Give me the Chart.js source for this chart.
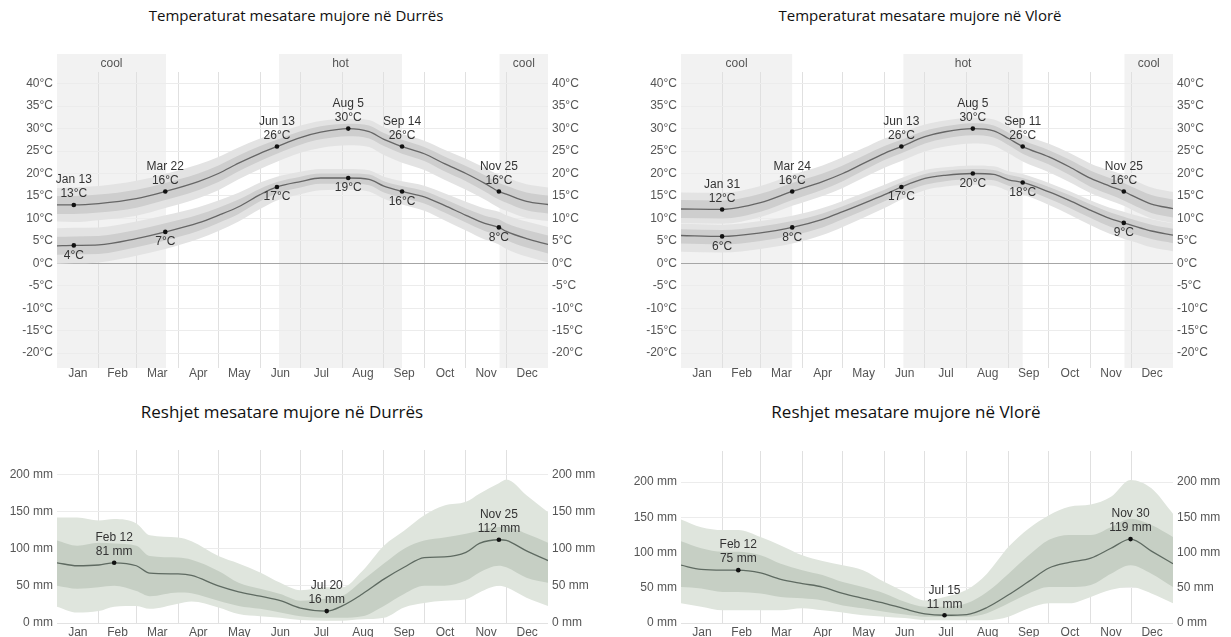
<!DOCTYPE html>
<html>
<head>
<meta charset="utf-8">
<script src="https://cdn.jsdelivr.net/npm/chart.js@4.4.1/dist/chart.umd.min.js"></script>
<style>
  html, body { margin: 0; padding: 0; background: #fff; }
  body { width: 1231px; height: 637px; position: relative; overflow: hidden; }
  .title { position: absolute; transform: translateX(-50%); white-space: nowrap;
           font-family: "Open Sans", "Noto Sans", sans-serif; color: #111; line-height: 22px; }
  .t-temp { font-size: 15px; }
  .t-rain { font-size: 17px; }
  .box { position: absolute; }
  canvas { display: block; }
</style>
</head>
<body>
<div class="title t-temp" style="left:296px; top:4px">Temperaturat mesatare mujore në Durrës</div>
<div class="title t-temp" style="left:920px; top:4px">Temperaturat mesatare mujore në Vlorë</div>
<div class="title t-rain" style="left:282px; top:401px">Reshjet mesatare mujore në Durrës</div>
<div class="title t-rain" style="left:906px; top:401px">Reshjet mesatare mujore në Vlorë</div>

<div class="box" style="left:0; top:30px"><canvas id="tempDurres" width="615" height="360"></canvas></div>
<div class="box" style="left:615px; top:30px"><canvas id="tempVlore" width="616" height="360"></canvas></div>
<div class="box" style="left:0; top:425px"><canvas id="rainDurres" width="615" height="212"></canvas></div>
<div class="box" style="left:615px; top:425px"><canvas id="rainVlore" width="616" height="212"></canvas></div>

<script>
// ---- axes ----
const monthLabels = ['Jan', 'Feb', 'Mar', 'Apr', 'May', 'Jun', 'Jul', 'Aug', 'Sep', 'Oct', 'Nov', 'Dec'];
const monthStarts = [31, 59, 90, 120, 151, 181, 212, 243, 273, 304, 334];
const monthMids = [15.5, 45, 74.5, 105, 135.5, 166, 196.5, 227.5, 258, 288.5, 319, 349.5];
const tempTicks = [-20, -15, -10, -5, 0, 5, 10, 15, 20, 25, 30, 35, 40];
const rainTicks = [0, 50, 100, 150, 200];

// ---- Durrës temperature (day of year) ----
const durresTempDays = [0, 12.5, 31, 59, 80.5, 105, 120, 135, 151, 163.5, 181, 196, 216.5, 232, 243, 256.5, 273, 288, 304, 318, 328.5, 334, 349, 365];
const durresHigh    = [13.0, 13, 13.3, 14.4, 16, 18.2, 20, 22.3, 24.5, 26, 28, 29.2, 30, 29.3, 27.6, 26, 24.4, 22.2, 20, 17.8, 16, 15.4, 13.8, 13.1];
const durresHighP90 = [16.8, 16.9, 17.2, 18.4, 19.9, 22.0, 23.7, 25.8, 27.8, 29.0, 30.7, 31.7, 32.2, 31.9, 30.3, 28.8, 27.3, 25.3, 23.3, 21.3, 19.7, 19.1, 17.6, 16.9];
const durresHighP75 = [15.0, 15.0, 15.3, 16.4, 17.9, 20.0, 21.8, 24.0, 26.1, 27.5, 29.4, 30.5, 31.1, 30.7, 29.0, 27.5, 25.9, 23.8, 21.7, 19.6, 17.9, 17.3, 15.8, 15.1];
const durresHighP25 = [11.0, 11.0, 11.3, 12.4, 14.1, 16.3, 18.1, 20.5, 22.8, 24.4, 26.4, 27.6, 28.3, 27.8, 26.1, 24.4, 22.8, 20.5, 18.3, 16.0, 14.2, 13.5, 11.8, 11.1];
const durresHighP10 = [9.3, 9.2, 9.6, 10.6, 12.3, 14.5, 16.3, 18.7, 21.0, 22.6, 24.6, 25.7, 26.3, 25.9, 24.1, 22.4, 20.8, 18.6, 16.4, 14.2, 12.4, 11.7, 10.1, 9.4];
const durresLow     = [3.9, 4, 4.1, 5.5, 7, 9, 10.7, 12.6, 15.3, 17, 18.2, 19, 19, 18.7, 17.2, 16, 14.8, 12.9, 10.7, 8.9, 8, 7.1, 5.5, 4.2];
const durresLowP90  = [7.8, 7.9, 8.0, 9.3, 10.7, 12.5, 14.0, 15.7, 18.0, 19.3, 20.4, 21.0, 21.0, 20.7, 19.3, 18.3, 17.3, 15.6, 13.7, 12.2, 11.5, 10.7, 9.3, 8.1];
const durresLowP75  = [5.9, 6.0, 6.1, 7.4, 8.9, 10.8, 12.4, 14.2, 16.6, 18.1, 19.3, 20.0, 20.0, 19.8, 18.3, 17.2, 16.1, 14.3, 12.2, 10.6, 9.8, 8.9, 7.4, 6.2];
const durresLowP25  = [1.9, 2.0, 2.1, 3.6, 5.1, 7.2, 9.0, 11.0, 13.8, 15.6, 16.9, 17.7, 17.7, 17.4, 15.8, 14.6, 13.3, 11.3, 9.1, 7.2, 6.2, 5.2, 3.5, 2.2];
const durresLowP10  = [-0.1, 0.0, 0.2, 1.7, 3.2, 5.4, 7.2, 9.3, 12.1, 14.0, 15.4, 16.3, 16.4, 16.0, 14.4, 13.1, 11.7, 9.6, 7.3, 5.3, 4.2, 3.2, 1.5, 0.2];
const durresTempMarks = [12.5, 80.5, 163.5, 216.5, 256.5, 328.5];
const durresTempDates = ['Jan 13', 'Mar 22', 'Jun 13', 'Aug 5', 'Sep 14', 'Nov 25'];
const durresSeasons = [
  { name: 'cool', from: 0, to: 81 },
  { name: 'hot', from: 165, to: 256.5 },
  { name: 'cool', from: 329, to: 365 }
];

// ---- Vlorë temperature ----
const vloreTempDays = [0, 30.5, 59, 82.5, 105, 120, 135, 151, 163.5, 181, 196, 216.5, 232, 243, 253.5, 273, 288, 304, 318, 328.5, 334, 349, 365];
const vloreHigh    = [12.1, 12, 13.5, 16, 18.2, 20, 22.2, 24.5, 26, 28.2, 29.3, 30, 29.5, 27.8, 26, 23.7, 21.5, 18.9, 17.2, 16, 15.2, 13.2, 12.2];
const vloreHighP90 = [15.8, 15.7, 17.2, 19.7, 21.8, 23.6, 25.6, 27.8, 29.1, 30.9, 31.8, 32.4, 32.0, 30.4, 28.7, 26.6, 24.6, 22.2, 20.7, 19.6, 18.8, 16.9, 15.9];
const vloreHighP75 = [14.1, 14.0, 15.5, 17.9, 20.0, 21.8, 23.9, 26.1, 27.5, 29.5, 30.5, 31.2, 30.7, 29.1, 27.4, 25.2, 23.1, 20.6, 19.0, 17.9, 17.1, 15.2, 14.2];
const vloreHighP25 = [10.1, 10.0, 11.5, 14.1, 16.4, 18.3, 20.6, 23.0, 24.5, 26.7, 27.8, 28.5, 28.0, 26.3, 24.4, 22.0, 19.7, 17.0, 15.3, 14.0, 13.2, 11.2, 10.2];
const vloreHighP10 = [8.9, 8.8, 10.3, 12.8, 15.0, 16.8, 19.0, 21.3, 22.8, 24.9, 26.0, 26.7, 26.2, 24.5, 22.7, 20.3, 18.1, 15.6, 14.0, 12.8, 12.0, 10.0, 9.0];
const vloreLow     = [6.2, 6, 6.8, 8, 9.8, 11.5, 13.3, 15.3, 17, 18.9, 19.6, 20, 19.8, 18.6, 18, 15.9, 14, 11.8, 10, 9, 8.5, 7.2, 6.3];
const vloreLowP90  = [8.8, 8.6, 9.4, 10.6, 12.3, 13.9, 15.6, 17.5, 19.0, 20.8, 21.4, 21.8, 21.6, 20.5, 19.9, 17.9, 16.1, 14.0, 12.4, 11.5, 11.0, 9.8, 8.9];
const vloreLowP75  = [7.6, 7.4, 8.2, 9.4, 11.1, 12.7, 14.5, 16.4, 18.0, 19.9, 20.6, 21.0, 20.8, 19.7, 19.0, 17.0, 15.2, 13.1, 11.4, 10.4, 9.9, 8.6, 7.7];
const vloreLowP25  = [4.4, 4.2, 5.0, 6.2, 8.0, 9.8, 11.7, 13.8, 15.6, 17.5, 18.3, 18.7, 18.5, 17.3, 16.6, 14.4, 12.4, 10.1, 8.2, 7.2, 6.7, 5.4, 4.5];
const vloreLowP10  = [2.6, 2.4, 3.2, 4.4, 6.3, 8.1, 10.1, 12.3, 14.2, 16.3, 17.1, 17.5, 17.3, 16.1, 15.3, 13.0, 10.9, 8.5, 6.6, 5.5, 5.0, 3.6, 2.7];
const vloreTempMarks = [30.5, 82.5, 163.5, 216.5, 253.5, 328.5];
const vloreTempDates = ['Jan 31', 'Mar 24', 'Jun 13', 'Aug 5', 'Sep 11', 'Nov 25'];
const vloreSeasons = [
  { name: 'cool', from: 0, to: 82.5 },
  { name: 'hot', from: 165, to: 253.5 },
  { name: 'cool', from: 329, to: 365 }
];

// ---- Durrës precipitation (mm) ----
const durresRainDays = [0, 15, 31, 42.5, 59, 69, 90, 100, 120, 135, 151, 166, 181, 200.5, 212, 227, 243, 258, 273, 288, 304, 314, 328.5, 334, 349, 365];
const durresRain    = [81, 77, 78, 81, 77, 67, 66, 64, 50, 42, 36, 30, 20, 16, 23, 39, 59, 75, 88, 89, 95, 107, 112, 111, 97, 84];
const durresRainP90 = [142, 142, 138, 140, 134, 118, 115, 110, 90, 80, 68, 54, 44, 48, 48, 70, 104, 124, 145, 158, 163, 174, 188, 193, 172, 149];
const durresRainP75 = [111, 104, 108, 107, 104, 90, 88, 85, 70, 54, 46, 39, 30, 33, 36, 57, 80, 100, 111, 115, 120, 124, 129, 129, 120, 108];
const durresRainP25 = [50, 46, 48, 50, 43, 36, 41, 40, 30, 23, 19, 14, 9, 7, 7, 9, 23, 39, 50, 50, 57, 68, 77, 75, 61, 54];
const durresRainP10 = [22, 14, 16, 22, 23, 19, 26, 29, 21, 12, 9, 7, 4, 3, 3, 5, 7, 21, 27, 30, 32, 41, 50, 48, 34, 23];
const durresRainMarks = [42.5, 200.5, 328.5];
const durresRainDates = ['Feb 12', 'Jul 20', 'Nov 25'];

// ---- Vlorë precipitation (mm) ----
const vloreRainDays = [0, 15, 31, 42.5, 59, 74, 90, 105, 120, 135, 151, 166, 181, 195.5, 212, 227, 243, 258, 273, 288, 304, 319, 333.5, 349, 365];
const vloreRain    = [82, 76, 75, 75, 71, 62, 56, 51, 42, 35, 28, 20, 13, 11, 12, 22, 40, 59, 78, 86, 92, 106, 119, 102, 84];
const vloreRainP90 = [147, 136, 132, 132, 122, 110, 96, 88, 82, 75, 58, 44, 32, 37, 47, 70, 108, 134, 153, 165, 168, 179, 203, 191, 155];
const vloreRainP75 = [116, 106, 101, 101, 96, 84, 75, 68, 58, 51, 42, 30, 23, 23, 28, 44, 70, 96, 118, 125, 125, 136, 148, 139, 122];
const vloreRainP25 = [51, 49, 44, 44, 42, 37, 35, 32, 25, 21, 16, 12, 9, 9, 9, 14, 28, 42, 51, 51, 54, 70, 82, 70, 51];
const vloreRainP10 = [28, 23, 18, 18, 18, 18, 21, 18, 15, 11, 9, 7, 4, 4, 4, 4, 9, 21, 28, 28, 37, 47, 51, 42, 28];
const vloreRainMarks = [42.5, 195.5, 333.5];
const vloreRainDates = ['Feb 12', 'Jul 15', 'Nov 30'];

// ---- styling ----
const FONT = '"Liberation Sans", Arial, sans-serif';
Chart.defaults.font.family = FONT;
Chart.defaults.font.size = 12;
Chart.defaults.color = '#555';

const TEMP_LIGHT = '#e3e3e3', TEMP_DARK = '#cecece', TEMP_LINE = '#666666';
const RAIN_LIGHT = '#dfe5dd', RAIN_DARK = '#c6cfc4', RAIN_LINE = '#5e6a61';

function series(days, vals) {
  return days.map((d, i) => ({ x: d, y: vals[i] }));
}

function band(days, vals, fill, color) {
  return {
    data: series(days, vals), fill: fill, backgroundColor: color,
    borderColor: 'rgba(0,0,0,0)', borderWidth: 0, pointRadius: 0,
    cubicInterpolationMode: 'monotone', xAxisID: 'x', yAxisID: 'y'
  };
}

function meanLine(days, vals, color, marks, dates, unit, side) {
  return {
    data: series(days, vals), fill: false, borderColor: color, borderWidth: 1.3,
    cubicInterpolationMode: 'monotone',
    pointRadius: c => (c.raw && marks.includes(c.raw.x)) ? 2.3 : 0,
    pointBackgroundColor: '#111', pointBorderWidth: 0,
    marks: marks, dates: dates, unit: unit, side: side,
    xAxisID: 'x', yAxisID: 'y'
  };
}

// shaded cool / hot seasons behind the grid
const seasonBands = {
  id: 'seasonBands',
  beforeDraw(chart, args, opts) {
    const bands = opts.bands || [];
    if (!bands.length) return;
    const { ctx, chartArea: a } = chart;
    const x = chart.scales.x;
    ctx.save();
    bands.forEach(b => {
      const x0 = x.getPixelForValue(b.from), x1 = x.getPixelForValue(b.to);
      ctx.fillStyle = '#f2f2f2';
      ctx.fillRect(x0, a.top - 18, x1 - x0, a.bottom - a.top + 18);
      ctx.fillStyle = '#555';
      ctx.font = '12px ' + FONT;
      ctx.textAlign = 'center';
      ctx.textBaseline = 'middle';
      ctx.fillText(b.name, (x0 + x1) / 2, a.top - 8);
    });
    ctx.restore();
  }
};

// date / value labels next to the marked points
const markLabels = {
  id: 'markLabels',
  afterDatasetsDraw(chart) {
    const ctx = chart.ctx;
    ctx.save();
    ctx.font = '12px ' + FONT;
    ctx.fillStyle = '#333';
    ctx.textAlign = 'center';
    ctx.textBaseline = 'middle';
    chart.data.datasets.forEach((ds, i) => {
      if (!ds.marks) return;
      const els = chart.getDatasetMeta(i).data;
      ds.data.forEach((p, j) => {
        const k = ds.marks.indexOf(p.x);
        if (k < 0) return;
        const el = els[j];
        const text = p.y + ds.unit;
        if (ds.side === 'below') {
          ctx.fillText(text, el.x, el.y + 10);
        } else {
          ctx.fillText(ds.dates[k], el.x, el.y - 25);
          ctx.fillText(text, el.x, el.y - 11);
        }
      });
    });
    ctx.restore();
  }
};

function makeChart(id, o) {
  const fmt = v => v + o.unit;
  return new Chart(document.getElementById(id), {
    type: 'line',
    data: { datasets: o.datasets },
    options: {
      responsive: false, animation: false, events: [],
      layout: { padding: { top: o.padTop, left: 0, right: 0, bottom: 0 } },
      plugins: {
        legend: { display: false }, tooltip: { enabled: false },
        seasonBands: { bands: o.seasons || [] }
      },
      scales: {
        x: {
          type: 'linear', min: 0, max: 365, position: 'bottom',
          afterBuildTicks: a => { a.ticks = monthStarts.map(v => ({ value: v })); },
          ticks: { display: false },
          grid: { color: '#e0e0e0', drawTicks: false }, border: { display: false },
          afterFit: a => { a.height = 0; }
        },
        months: {
          type: 'linear', min: 0, max: 365, position: 'bottom',
          afterBuildTicks: a => { a.ticks = monthMids.map(v => ({ value: v })); },
          ticks: { autoSkip: false, maxRotation: 0, padding: o.xPad, color: '#555',
                   callback: (v, i) => monthLabels[i] },
          grid: { display: false, drawTicks: false }, border: { display: false },
          afterFit: a => { a.height = o.xHeight; }
        },
        y: {
          position: 'left', min: o.yMin, max: o.yMax,
          afterBuildTicks: a => { a.ticks = o.yTicks.map(v => ({ value: v })); },
          ticks: { padding: 4, callback: fmt, color: '#555' },
          grid: { drawTicks: false, color: c => (c.tick && c.tick.value === 0) ? o.zeroColor : '#ececec' },
          border: { display: false },
          afterFit: a => { a.width = o.leftW; }
        },
        y2: {
          position: 'right', min: o.yMin, max: o.yMax,
          afterBuildTicks: a => { a.ticks = o.yTicks.map(v => ({ value: v })); },
          ticks: { padding: 4, callback: fmt, color: '#555' },
          grid: { display: false, drawTicks: false }, border: { display: false },
          afterFit: a => { a.width = o.rightW; }
        }
      }
    },
    plugins: [seasonBands, markLabels]
  });
}

function tempDatasets(days, hi, hi90, hi75, hi25, hi10, lo, lo90, lo75, lo25, lo10, marks, dates) {
  return [
    meanLine(days, hi, TEMP_LINE, marks, dates, '°C', 'above'),
    meanLine(days, lo, TEMP_LINE, marks, dates, '°C', 'below'),
    band(days, hi75, false, TEMP_DARK),
    band(days, hi25, '-1', TEMP_DARK),
    band(days, lo75, false, TEMP_DARK),
    band(days, lo25, '-1', TEMP_DARK),
    band(days, hi90, false, TEMP_LIGHT),
    band(days, hi10, '-1', TEMP_LIGHT),
    band(days, lo90, false, TEMP_LIGHT),
    band(days, lo10, '-1', TEMP_LIGHT)
  ];
}

function rainDatasets(days, mean, p90, p75, p25, p10, marks, dates) {
  return [
    meanLine(days, mean, RAIN_LINE, marks, dates, ' mm', 'above'),
    band(days, p75, false, RAIN_DARK),
    band(days, p25, '-1', RAIN_DARK),
    band(days, p90, false, RAIN_LIGHT),
    band(days, p10, '-1', RAIN_LIGHT)
  ];
}

makeChart('tempDurres', {
  unit: '°C', padTop: 42, xHeight: 22, xPad: -2, leftW: 57, rightW: 67,
  yMin: -23.3, yMax: 42.6, yTicks: tempTicks, zeroColor: '#a6a6a6', seasons: durresSeasons,
  datasets: tempDatasets(durresTempDays, durresHigh, durresHighP90, durresHighP75, durresHighP25, durresHighP10,
                         durresLow, durresLowP90, durresLowP75, durresLowP25, durresLowP10,
                         durresTempMarks, durresTempDates)
});

makeChart('tempVlore', {
  unit: '°C', padTop: 42, xHeight: 22, xPad: -2, leftW: 66, rightW: 58,
  yMin: -23.3, yMax: 42.6, yTicks: tempTicks, zeroColor: '#a6a6a6', seasons: vloreSeasons,
  datasets: tempDatasets(vloreTempDays, vloreHigh, vloreHighP90, vloreHighP75, vloreHighP25, vloreHighP10,
                         vloreLow, vloreLowP90, vloreLowP75, vloreLowP25, vloreLowP10,
                         vloreTempMarks, vloreTempDates)
});

makeChart('rainDurres', {
  unit: ' mm', padTop: 25, xHeight: 14, xPad: 2, leftW: 57, rightW: 67,
  yMin: 0, yMax: 232.7, yTicks: rainTicks, zeroColor: '#e2e2e2',
  datasets: rainDatasets(durresRainDays, durresRain, durresRainP90, durresRainP75, durresRainP25, durresRainP10,
                         durresRainMarks, durresRainDates)
});

makeChart('rainVlore', {
  unit: ' mm', padTop: 26, xHeight: 14, xPad: 2, leftW: 66, rightW: 58,
  yMin: 0, yMax: 244, yTicks: rainTicks, zeroColor: '#e2e2e2',
  datasets: rainDatasets(vloreRainDays, vloreRain, vloreRainP90, vloreRainP75, vloreRainP25, vloreRainP10,
                         vloreRainMarks, vloreRainDates)
});
</script>
</body>
</html>
